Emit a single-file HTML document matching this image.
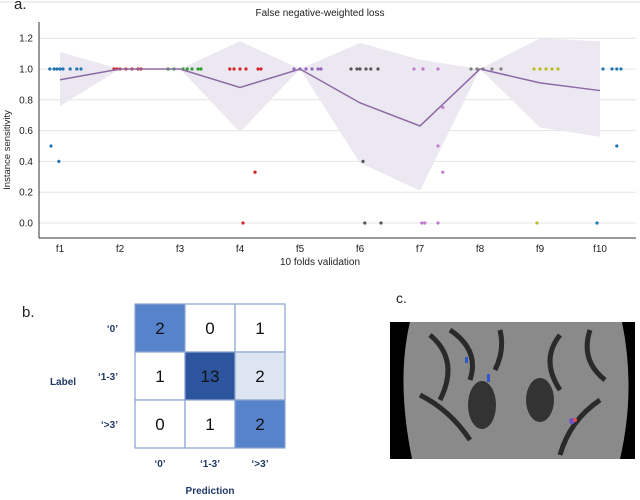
<!DOCTYPE html>
<html><head><meta charset="utf-8"><style>
body{margin:0;background:#fff;width:640px;height:495px;overflow:hidden;font-family:"Liberation Sans",sans-serif}
</style></head><body>
<svg id="fig" width="640" height="495" xmlns="http://www.w3.org/2000/svg" font-family="Liberation Sans, sans-serif">
<line x1="0" y1="2" x2="640" y2="2" stroke="#ddd"/>
<text x="14" y="9" font-size="15" fill="#222">a.</text>
<text x="320" y="16" font-size="10" text-anchor="middle" fill="#222">False negative-weighted loss</text>
<g id="chart"></g>
<text x="320" y="265" font-size="10" text-anchor="middle" fill="#222">10 folds validation</text>
<text x="10" y="150" font-size="9.5" text-anchor="middle" fill="#222" transform="rotate(-90 10 150)">Instance sensitivity</text>

<text x="22" y="317" font-size="15" fill="#222">b.</text>
<g id="cm"></g>
<text x="63" y="385" font-size="10" font-weight="bold" fill="#1f3864" text-anchor="middle">Label</text>
<text x="210" y="494" font-size="10" font-weight="bold" fill="#1f3864" text-anchor="middle">Prediction</text>

<text x="396" y="303" font-size="14" fill="#222">c.</text>
<g>
<rect x="390" y="322" width="245" height="137" fill="#000"/>
<path d="M410 322 Q396 380 412 459 L620 459 Q636 390 622 322 Z" fill="#8a8a8a"/>
<path d="M430 335 Q460 360 440 400 M450 330 Q480 350 470 380 M420 395 Q450 410 470 440 M560 335 Q540 360 560 390 M590 330 Q580 360 605 380 M600 400 Q570 420 560 455 M500 330 Q505 350 495 370" stroke="#2a2a2a" stroke-width="5" fill="none"/>
<ellipse cx="482" cy="405" rx="14" ry="24" fill="#333"/>
<ellipse cx="540" cy="400" rx="14" ry="22" fill="#333"/>
<rect x="465" y="357" width="3" height="6" fill="#3355cc"/>
<rect x="487" y="374" width="3" height="8" fill="#3355cc"/>
<circle cx="572" cy="421" r="3" fill="#6655cc"/><circle cx="575" cy="420" r="2" fill="#e05050"/>
</g>
</svg>
<script>
const folds=['f1','f2','f3','f4','f5','f6','f7','f8','f9','f10'];
const meanVals=[0.93,1.0,1.0,0.88,1.0,0.78,0.63,1.0,0.91,0.86];
const upperVals=[1.11,1.0,1.0,1.18,1.0,1.17,1.06,1.0,1.2,1.18];
const lowerVals=[0.76,1.0,1.0,0.59,1.0,0.39,0.21,1.0,0.62,0.56];
const yTicks=[0,0.2,0.4,0.6,0.8,1.0,1.2];
const yTickLabels=['0.0','0.2','0.4','0.6','0.8','1.0','1.2'];
const ptFold=[0,0,0,0,0,0,0,0,0,0, 1,1,1,1,1,1,1, 2,2,2,2,2,2,2, 3,3,3,3,3,3,3,3,3, 4,4,4,4,4,4, 5,5,5,5,5,5,5,5,5, 6,6,6,6,6,6,6,6,6,6, 7,7,7,7,7, 8,8,8,8,8,8, 9,9,9,9,9,9];
const ptOff=[-0.17,-0.1,-0.05,0.0,0.05,0.17,0.28,0.35,-0.15,-0.02, -0.1,-0.05,0.0,0.1,0.2,0.3,0.35, -0.2,-0.1,0.05,0.12,0.2,0.3,0.35, -0.17,-0.1,0.0,0.1,0.3,0.35,0.25,0.25,0.05, -0.1,0.0,0.1,0.2,0.3,0.35, -0.15,-0.05,0.0,0.1,0.18,0.3,0.05,0.08,0.35, -0.1,0.05,0.3,0.38,0.3,0.38,0.03,0.08,0.3,0.05, -0.15,-0.05,0.05,0.2,0.35, -0.1,0.0,0.1,0.2,0.3,-0.05, 0.05,0.2,0.28,0.35,0.28,-0.05];
const ptVal=[1,1,1,1,1,1,1,1,0.5,0.4, 1,1,1,1,1,1,1, 1,1,1,1,1,1,1, 1,1,1,1,1,1,0.33,0.33,0, 1,1,1,1,1,1, 1,1,1,1,1,1,0.4,0,0, 1,1,1,0.75,0.5,0.33,0,0,0,1, 1,1,1,1,1, 1,1,1,1,1,0, 1,1,1,1,0.5,0];
const ptColor=['#1f77b4','#d62728','#2ca02c','#d62728','#9467bd','#555555','#c27bd0','#7f7f7f','#bcbd22','#1f77b4'];
const NS='http://www.w3.org/2000/svg';
const X=i=>60+i*60, Y=v=>223-154*v;
const g=document.getElementById('chart');
function mk(t,a,p){const e=document.createElementNS(NS,t);for(const k in a)e.setAttribute(k,a[k]);(p||g).appendChild(e);return e;}
yTicks.forEach((v,i)=>{
 const l=mk('line',{x1:39,x2:636,y1:Y(v),y2:Y(v),stroke:'#e4e4e4','stroke-width':1});
 
 
 const t=mk('text',{x:33,y:Y(v)+3.5,'font-size':10,'text-anchor':'end',fill:'#222'});t.textContent=yTickLabels[i];
 
 
});
let band='';folds.forEach((f,i)=>band+=(i?'L':'M')+X(i)+' '+Y(upperVals[i]));
for(let i=folds.length-1;i>=0;i--)band+='L'+X(i)+' '+Y(lowerVals[i]);
const b=mk('path',{d:band+'Z',fill:'#ece8f2'});


ptVal.forEach((v,k)=>{
 const c=mk('circle',{cx:X(ptFold[k]+ptOff[k]),cy:Y(v),r:1.6,fill:ptColor[ptFold[k]]});
 
 
});
const ln=mk('polyline',{points:meanVals.map((v,i)=>X(i)+','+Y(v)).join(' '),fill:'none',stroke:'#8c6aa6','stroke-width':1.5});


const ax=mk('line',{x1:39,x2:636,y1:238,y2:238,stroke:'#333'});


const ay=mk('line',{x1:39,x2:39,y1:22,y2:238,stroke:'#333'});


folds.forEach((f,i)=>{
 const t=mk('text',{x:X(i),y:252,'font-size':10,'text-anchor':'middle',fill:'#222'});t.textContent=f;
 
 
});
// confusion matrix
const cmLabels=["‘0’","‘1-3’","‘>3’"];
const cmVals=[[2,0,1],[1,13,2],[0,1,2]];
const cmFill=[['#5683cc','#fff','#fff'],['#fff','#2c559d','#dde5f3'],['#fff','#fff','#5683cc']];
const cg=document.getElementById('cm');
const cx0=135,cy0=304,cw=50,ch=48;
cmVals.forEach((row,r)=>row.forEach((v,c)=>{
 const rc=mk('rect',{x:cx0+c*cw,y:cy0+r*ch,width:cw,height:ch,fill:cmFill[r][c],stroke:'#8aa4cf','stroke-width':1.2},cg);
 
 
 const t=mk('text',{x:cx0+c*cw+cw/2,y:cy0+r*ch+ch/2+6,'font-size':17,'text-anchor':'middle',fill:'#111'},cg);t.textContent=v;
 
 
}));
cmLabels.forEach((l,i)=>{
 const t=mk('text',{x:118,y:cy0+i*ch+ch/2+4,'font-size':10,'font-weight':'bold','text-anchor':'end',fill:'#1f3864'},cg);t.textContent=l;
 
 
 const u=mk('text',{x:cx0+i*cw+cw/2,y:467,'font-size':10,'font-weight':'bold','text-anchor':'middle',fill:'#1f3864'},cg);u.textContent=l;
 
 
});
</script>
</body></html>
